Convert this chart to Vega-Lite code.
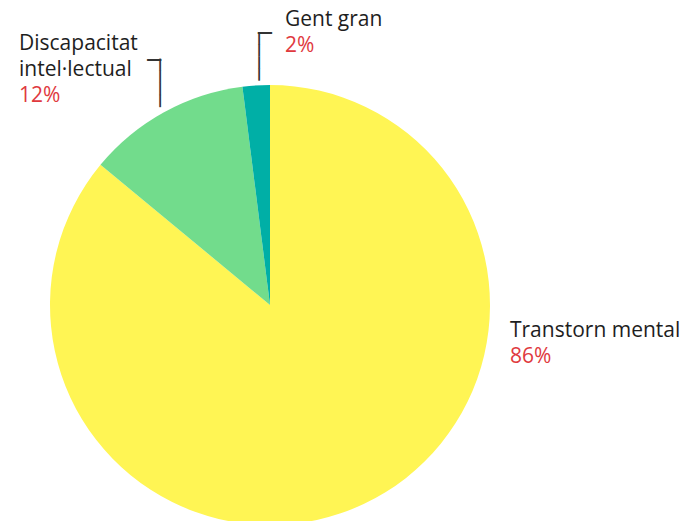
{
  "$schema": "https://vega.github.io/schema/vega-lite/v6.json",
  "width": 440,
  "height": 432,
  "autosize": "none",
  "padding": {"left": 50, "top": 89, "right": 196, "bottom": 0},
  "background": "white",
  "config": {"view": {"stroke": null}},
  "data": {
    "values": [
      {"category": "Transtorn mental", "share": 0.86},
      {"category": "Discapacitat intel·lectual", "share": 0.12},
      {"category": "Gent gran", "share": 0.02}
    ]
  },
  "encoding": {
    "theta": {"field": "share", "type": "quantitative", "stack": true},
    "order": {"field": "share", "type": "quantitative", "sort": "descending"},
    "detail": {"field": "category", "type": "nominal"}
  },
  "layer": [
    {
      "mark": {"type": "arc", "outerRadius": 220},
      "encoding": {
        "color": {
          "field": "category",
          "type": "nominal",
          "scale": {
            "domain": ["Transtorn mental", "Discapacitat intel·lectual", "Gent gran"],
            "range": ["#FFF554", "#72DC8C", "#00AFA6"]
          },
          "legend": null
        }
      }
    },
    {
      "mark": {"type": "text", "radius": 220, "align": "left", "baseline": "alphabetic", "dx": 146.3, "dy": -166.8, "font": "Open Sans", "fontSize": 21, "color": "#1e1e1e"},
      "encoding": {"text": {"field": "category", "type": "nominal", "condition": {"test": "datum.category !== 'Transtorn mental'", "value": ""}}}
    },
    {
      "mark": {"type": "text", "radius": 220, "align": "left", "baseline": "alphabetic", "dx": 146.3, "dy": -140.8, "font": "Open Sans", "fontSize": 21, "color": "#E0393E"},
      "encoding": {"text": {"field": "share", "type": "quantitative", "format": ".0%", "condition": {"test": "datum.category !== 'Transtorn mental'", "value": ""}}}
    },
    {
      "mark": {"type": "text", "radius": 220, "align": "left", "baseline": "alphabetic", "dx": -145, "dy": -62.2, "lineBreak": " ", "lineHeight": 26, "font": "Open Sans", "fontSize": 21, "color": "#1e1e1e"},
      "encoding": {"text": {"field": "category", "type": "nominal", "condition": {"test": "datum.category !== 'Discapacitat intel·lectual'", "value": ""}}}
    },
    {
      "mark": {"type": "text", "radius": 220, "align": "left", "baseline": "alphabetic", "dx": -145, "dy": -10.5, "font": "Open Sans", "fontSize": 21, "color": "#E0393E"},
      "encoding": {"text": {"field": "share", "type": "quantitative", "format": ".0%", "condition": {"test": "datum.category !== 'Discapacitat intel·lectual'", "value": ""}}}
    },
    {
      "mark": {"type": "text", "radius": 220, "align": "left", "baseline": "alphabetic", "dx": 28.8, "dy": -59.4, "font": "Open Sans", "fontSize": 21, "color": "#1e1e1e"},
      "encoding": {"text": {"field": "category", "type": "nominal", "condition": {"test": "datum.category !== 'Gent gran'", "value": ""}}}
    },
    {
      "mark": {"type": "text", "radius": 220, "align": "left", "baseline": "alphabetic", "dx": 28.8, "dy": -33.7, "font": "Open Sans", "fontSize": 21, "color": "#E0393E"},
      "encoding": {"text": {"field": "share", "type": "quantitative", "format": ".0%", "condition": {"test": "datum.category !== 'Gent gran'", "value": ""}}}
    },
    {
      "mark": {"type": "text", "radius": 226, "angle": -90, "align": "left", "baseline": "middle", "dx": 0, "dy": 0, "font": "DejaVu Sans Mono", "fontSize": 20, "color": "#333333"},
      "encoding": {"text": {"condition": {"test": "datum.category === 'Discapacitat intel·lectual'", "value": "────"}, "value": ""}}
    },
    {
      "mark": {"type": "text", "radius": 226, "align": "right", "baseline": "middle", "dx": 0, "dy": -46, "font": "DejaVu Sans Mono", "fontSize": 23, "color": "#333333"},
      "encoding": {"text": {"condition": {"test": "datum.category === 'Discapacitat intel·lectual'", "value": "─"}, "value": ""}}
    },
    {
      "mark": {"type": "text", "radius": 225, "angle": -90, "align": "left", "baseline": "middle", "dx": 0, "dy": 3.9, "font": "DejaVu Sans Mono", "fontSize": 20, "color": "#333333"},
      "encoding": {"text": {"condition": {"test": "datum.category === 'Gent gran'", "value": "────"}, "value": ""}}
    },
    {
      "mark": {"type": "text", "radius": 225, "align": "left", "baseline": "middle", "dx": 2.2, "dy": -46.5, "font": "DejaVu Sans Mono", "fontSize": 23, "color": "#333333"},
      "encoding": {"text": {"condition": {"test": "datum.category === 'Gent gran'", "value": "─"}, "value": ""}}
    }
  ]
}
